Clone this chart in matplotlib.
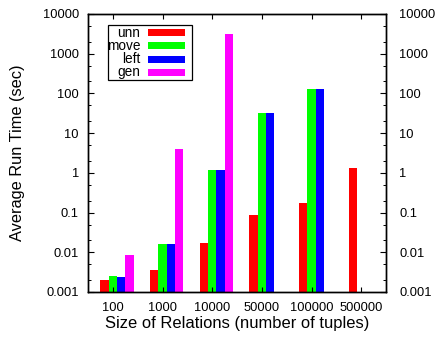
import numpy as np
import matplotlib
matplotlib.use("Agg")
import matplotlib.pyplot as plt
from matplotlib.ticker import LogLocator, FixedLocator, NullFormatter
from matplotlib.patches import Rectangle

plt.rcParams['font.family'] = ['Liberation Sans', 'DejaVu Sans']

# Relation sizes (number of tuples)
sizes = ["100", "1000", "10000", "50000", "100000", "500000"]

# Average run time in seconds per method (nan = not measured)
unn = [0.0019, 0.0035, 0.0174, 0.085, 0.174, 1.3]
move = [0.0025, 0.0165, 1.2, 32, 130, np.nan]
left = [0.0023, 0.0162, 1.2, 32, 130, np.nan]
gen = [0.0085, 4.0, 3100, np.nan, np.nan, np.nan]

series_names = ["unn", "move", "left", "gen"]
series_vals = [unn, move, left, gen]
colors = ["#ff0000", "#00ff00", "#0000ff", "#ff00ff"]

yticks = [0.001, 0.01, 0.1, 1, 10, 100, 1000, 10000]
ytick_labels = ["0.001", "0.01", "0.1", "1", "10", "100", "1000", "10000"]

W, H = 436, 338
fig = plt.figure(figsize=(W / 100, H / 100), dpi=100)
ax = fig.add_axes([88 / W, 1 - 292 / H, (386 - 88) / W, (292 - 14) / H])

x = np.arange(len(sizes))
bw = 1 / 6
offsets = [-bw, 0, bw, 2 * bw]
for vals, off, c in zip(series_vals, offsets, colors):
    ax.bar(x + off, vals, width=bw, color=c, bottom=0.0001, linewidth=0)

fs = 9.3


def setup_log_axis(a):
    a.set_yscale("log")
    a.set_ylim(0.001, 10000)
    a.yaxis.set_major_locator(FixedLocator(yticks))
    a.yaxis.set_minor_locator(LogLocator(base=10, subs=(2, 5), numticks=20))
    a.yaxis.set_minor_formatter(NullFormatter())


setup_log_axis(ax)
ax.set_yticklabels(ytick_labels)
ax.set_xlim(-0.5, len(sizes) - 0.5)
ax.set_xticks(x)
ax.set_xticklabels(sizes)

ax.tick_params(axis="y", which="major", direction="in", length=4.5, width=0.8,
               left=True, right=False, labelleft=True, labelright=False,
               labelsize=fs, pad=6.5)
ax.tick_params(axis="y", which="minor", direction="in", length=2.2, width=0.7,
               left=True, right=False)
ax.tick_params(axis="x", which="major", direction="in", length=3.5, width=0.8,
               top=True, bottom=True, labelsize=fs, pad=7)
ax.tick_params(axis="x", which="minor", bottom=False, top=False)

# Right-hand mirrored y axis with its own label spacing
ax2 = ax.twinx()
setup_log_axis(ax2)
ax2.set_yticklabels(ytick_labels)
ax2.tick_params(axis="y", which="major", direction="in", length=4.5, width=0.8,
                labelsize=fs, pad=9.4)
ax2.tick_params(axis="y", which="minor", direction="in", length=2.2, width=0.7)

for a in (ax, ax2):
    for sp in a.spines.values():
        sp.set_linewidth(1.0)

ax.set_ylabel("Average Run Time (sec)", fontsize=11.8)
ax.yaxis.set_label_coords(-0.213, 0.5)
ax.set_xlabel("Size of Relations (number of tuples)", fontsize=11.9)
ax.xaxis.set_label_coords(0.5, -0.085)

# Legend: labels right-aligned, colour swatch to the right, framed
def fx(px):
    return px / W


def fy(py):
    return 1 - py / H


fig.patches.append(Rectangle((fx(108), fy(80)), fx(192) - fx(108), fy(25) - fy(80),
                             transform=fig.transFigure, fill=False,
                             edgecolor="black", linewidth=0.9, zorder=5))
row_y = [32.7, 45.9, 59.1, 72.3]
for name, c, ry in zip(series_names, colors, row_y):
    fig.text(fx(140.5), fy(ry), name, ha="right", va="center", fontsize=9.8, zorder=6)
    fig.patches.append(Rectangle((fx(148), fy(ry + 3.5)), fx(185) - fx(148), fy(ry - 3.5) - fy(ry + 3.5),
                                 transform=fig.transFigure, facecolor=c,
                                 edgecolor="none", zorder=6))

fig.savefig("out.png", dpi=100)
